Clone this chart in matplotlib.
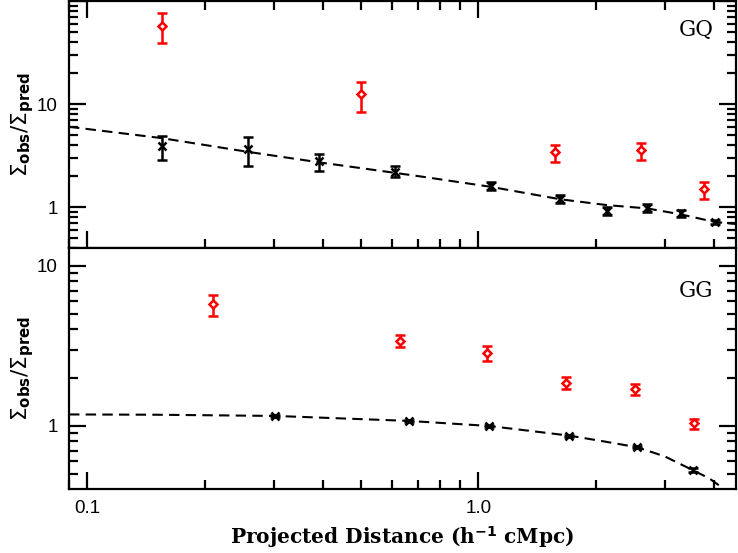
import matplotlib

matplotlib.use("Agg")
import matplotlib.pyplot as plt
import numpy as np
from matplotlib.ticker import FixedLocator, FixedFormatter, LogLocator, NullFormatter

# GQ panel (top)
gq_red_x = [0.155, 0.501, 1.567, 2.61, 3.77]
gq_red_y = [57.5, 12.4, 3.40, 3.58, 1.49]
gq_red_lo = [39.4, 8.42, 2.72, 2.86, 1.20]
gq_red_hi = [75.9, 16.5, 4.0, 4.21, 1.74]

gq_blk_x = [0.155, 0.257, 0.391, 0.611, 1.078, 1.62, 2.13, 2.70, 3.29, 4.03]
gq_blk_y = [3.94, 3.66, 2.78, 2.20, 1.61, 1.196, 0.908, 0.985, 0.87, 0.715]
gq_blk_lo = [2.84, 2.50, 2.22, 1.97, 1.46, 1.086, 0.83, 0.90, 0.805, 0.69]
gq_blk_hi = [4.92, 4.81, 3.29, 2.52, 1.74, 1.31, 0.99, 1.07, 0.94, 0.745]

gq_model_x = [0.0898, 0.155, 0.257, 0.391, 0.611, 0.72, 1.078, 1.62, 2.13, 2.70, 3.29, 4.03, 4.56]
gq_model_y = [6.02, 4.67, 3.44, 2.72, 2.15, 1.97, 1.57, 1.19, 1.045, 0.97, 0.85, 0.715, 0.684]

# GG panel (bottom)
gg_red_x = [0.2096, 0.629, 1.05, 1.675, 2.52, 3.56]
gg_red_y = [5.76, 3.41, 2.85, 1.86, 1.69, 1.04]
gg_red_lo = [4.89, 3.13, 2.55, 1.70, 1.57, 0.96]
gg_red_hi = [6.56, 3.70, 3.15, 2.02, 1.83, 1.10]

gg_blk_x = [0.302, 0.665, 1.065, 1.71, 2.55, 3.53]
gg_blk_y = [1.155, 1.075, 1.0, 0.87, 0.736, 0.531]
gg_blk_err = [0.012, 0.012, 0.012, 0.012, 0.012, 0.012]

gg_model_x = [0.0898, 0.15, 0.302, 0.665, 1.065, 1.71, 2.1, 2.55, 3.0, 3.53, 3.9, 4.25, 4.6]
gg_model_y = [1.18, 1.175, 1.155, 1.075, 1.0, 0.87, 0.80, 0.736, 0.645, 0.531, 0.47, 0.404, 0.35]

XLIM = (0.0898, 4.56)
RED = "#ff0000"
SANS = ["Liberation Sans", "DejaVu Sans"]
DASH = (0, (5, 3))


def style_axis(ax, ylim, show_xlabels, top_ticks):
    ax.set_xscale("log")
    ax.set_yscale("log")
    ax.set_xlim(*XLIM)
    ax.set_ylim(*ylim)
    for s in ax.spines.values():
        s.set_linewidth(1.6)
    ax.xaxis.set_major_locator(FixedLocator([0.1, 1.0]))
    ax.xaxis.set_minor_locator(LogLocator(base=10, subs=np.arange(2, 10)))
    ax.xaxis.set_minor_formatter(NullFormatter())
    if show_xlabels:
        ax.xaxis.set_major_formatter(FixedFormatter(["0.1", "1.0"]))
    else:
        ax.xaxis.set_major_formatter(NullFormatter())
    ax.yaxis.set_major_locator(FixedLocator([1, 10, 100]))
    ax.yaxis.set_major_formatter(FixedFormatter(["1", "10", ""]))
    ax.yaxis.set_minor_locator(LogLocator(base=10, subs=np.arange(2, 10)))
    ax.yaxis.set_minor_formatter(NullFormatter())
    ax.tick_params(which="both", direction="in", top=top_ticks, right=True,
                   width=1.6, labelsize=13.5, pad=8)
    ax.tick_params(which="major", length=12)
    ax.tick_params(which="minor", length=6.5)
    for lab in ax.get_xticklabels() + ax.get_yticklabels():
        lab.set_family(SANS)


fig = plt.figure(figsize=(7.38, 5.53), dpi=100)
ax1 = fig.add_axes([0.0935, 0.5515, 0.9038, 0.4465])
ax2 = fig.add_axes([0.0935, 0.1157, 0.9038, 0.4358])

eb_kw = dict(fmt="none", capsize=3.5, elinewidth=1.8, capthick=1.8)

# top panel
ax1.plot(gq_model_x, gq_model_y, color="black", ls=DASH, lw=1.5)
ax1.errorbar(gq_blk_x, gq_blk_y,
             yerr=[np.subtract(gq_blk_y, gq_blk_lo), np.subtract(gq_blk_hi, gq_blk_y)],
             ecolor="black", **eb_kw)
ax1.plot(gq_blk_x, gq_blk_y, "x", color="black", ms=6, mew=1.8)
ax1.errorbar(gq_red_x, gq_red_y,
             yerr=[np.subtract(gq_red_y, gq_red_lo), np.subtract(gq_red_hi, gq_red_y)],
             ecolor=RED, **eb_kw)
ax1.plot(gq_red_x, gq_red_y, "D", ms=4, mfc="white", mec=RED, mew=1.8)
style_axis(ax1, (0.4, 100), False, True)
ax1.text(0.94, 0.885, "GQ", transform=ax1.transAxes, fontsize=15.5,
         family="DejaVu Serif", ha="center", va="center")

# bottom panel
ax2.plot(gg_model_x, gg_model_y, color="black", ls=DASH, lw=1.5)
ax2.errorbar(gg_blk_x, gg_blk_y, yerr=gg_blk_err, ecolor="black", **eb_kw)
ax2.plot(gg_blk_x, gg_blk_y, "x", color="black", ms=6, mew=1.8)
ax2.errorbar(gg_red_x, gg_red_y,
             yerr=[np.subtract(gg_red_y, gg_red_lo), np.subtract(gg_red_hi, gg_red_y)],
             ecolor=RED, **eb_kw)
ax2.plot(gg_red_x, gg_red_y, "D", ms=4, mfc="white", mec=RED, mew=1.8)
style_axis(ax2, (0.404, 12.9), True, False)
ax2.text(0.94, 0.82, "GG", transform=ax2.transAxes, fontsize=15.5,
         family="DejaVu Serif", ha="center", va="center")

ylabel = r"$\Sigma_{\mathbf{obs}}/\Sigma_{\mathbf{pred}}$"
for ax in (ax1, ax2):
    ax.set_ylabel(ylabel, fontsize=15.5, labelpad=1)
ax2.set_xlabel(r"Projected Distance (h$^{\mathbf{-1}}$ cMpc)", fontsize=14.5,
               family="DejaVu Serif", fontweight="bold", labelpad=5)

fig.savefig("out.png", dpi=100)
